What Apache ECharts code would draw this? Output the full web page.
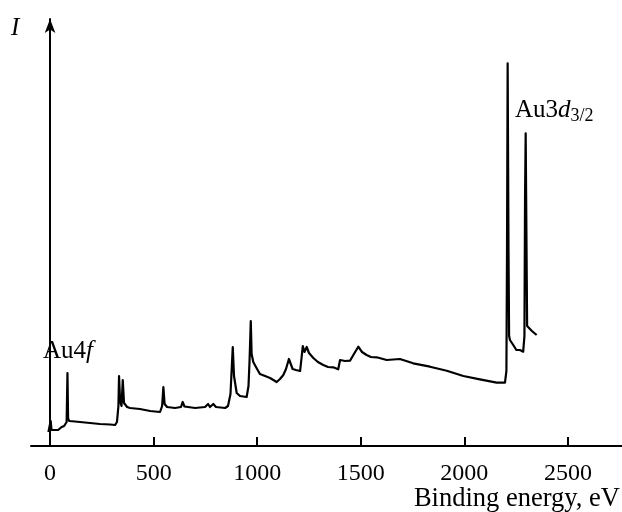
<!DOCTYPE html>
<html>
<head>
<meta charset="utf-8">
<script src="https://cdn.jsdelivr.net/npm/echarts@6/dist/echarts.min.js"></script>
<style>
html,body{margin:0;padding:0;background:#fff;}
#chart{width:622px;height:512px;}
</style>
</head>
<body>
<div id="chart"></div>
<script>
// Binding energy (eV)
const energy = [-8,-2,3,7,39,41,56,68,80,84,87,92,120,193,241,290,314,323,330,333,338,345,351,357,372,386,434,483,531,541,547,553,565,603,632,640,649,700,748,763,772,788,801,845,859,871,882,888,901,917,949,958,963,969,973,981,994,1013,1038,1062,1094,1110,1126,1139,1153,1171,1187,1207,1214,1220,1228,1239,1250,1271,1293,1319,1342,1367,1391,1400,1424,1448,1467,1488,1506,1528,1549,1577,1625,1689,1753,1834,1915,1995,2075,2156,2196,2203,2206,2209,2213,2216,2220,2236,2251,2268,2284,2290,2293,2296,2300,2303,2308,2326,2349];
// Intensity (arbitrary units)
const intensity = [14,15,25,16,16,18,19,20,24,73,28,25,24.5,23,22,21.5,21,24,40,70,45,40,66,43,39,38,37,35,34,40,59,42,39,38,39,44,39.5,38,39,42,39,42,39,38,40,52,99,70,53,50,49,60,85,125,92,84,79,72,70,68,64,67,71,77,87,77,76,75,88,100,94,99,93,88,84,81,79,78.7,76.7,86,85,85.3,92,99.3,94,91,89,88.7,86,87,82.7,79.3,75.3,70,66.7,63.3,63.3,75,200,382.7,200,110,106,101,96,96,94.3,110,250,312.7,200,120,119.3,115,111];
const xTicks = [0,500,1000,1500,2000,2500];
const yName = 'I';
const xName = 'Binding energy, eV';

const serif = '"Liberation Serif", "DejaVu Serif", serif';
const chart = echarts.init(document.getElementById('chart'), null, {renderer:'canvas'});
chart.setOption({
  animation:false,
  backgroundColor:'#fff',
  grid:{left:31,right:0,top:19,bottom:66,containLabel:false},
  xAxis:{
    type:'value', min:-92, max:2761,
    axisLine:{show:true,lineStyle:{color:'#000',width:2}},
    axisTick:{show:true,inside:true,length:9,lineStyle:{color:'#000',width:2},customValues:xTicks},
    axisLabel:{show:true,customValues:xTicks,color:'#000',fontFamily:serif,fontSize:24,margin:16,formatter:v=>String(v)},
    splitLine:{show:false}
  },
  yAxis:{
    type:'value', min:0, max:427,
    axisLine:{show:true,symbol:['none','arrow'],symbolSize:[8,14],lineStyle:{color:'#000',width:2}},
    axisTick:{show:false}, axisLabel:{show:false}, splitLine:{show:false}
  },
  series:[{
    type:'line',
    data: energy.map((e,i)=>[e,intensity[i]]),
    showSymbol:false,
    lineStyle:{color:'#000',width:2.2,join:'round'},
    z:3
  }],
  graphic:[
    {type:'text',left:11,top:16,style:{text:yName,font:'italic 25px '+serif,fill:'#000'}},
    {type:'text',right:2,top:486,style:{text:xName,font:'26.5px '+serif,fill:'#000'}},
    {type:'text',left:43,top:339,style:{text:'{n|Au4}{i|f}',rich:{n:{font:'25px '+serif,fill:'#000'},i:{font:'italic 25px '+serif,fill:'#000'}}}},
    {type:'text',left:515,top:98,style:{text:'{n|Au3}{i|d}{s|3/2}',rich:{n:{font:'25px '+serif,fill:'#000'},i:{font:'italic 25px '+serif,fill:'#000'},s:{font:'18px '+serif,fill:'#000',verticalAlign:'bottom',padding:[12,0,0,0]}}}}
  ]
});
</script>
</body>
</html>
